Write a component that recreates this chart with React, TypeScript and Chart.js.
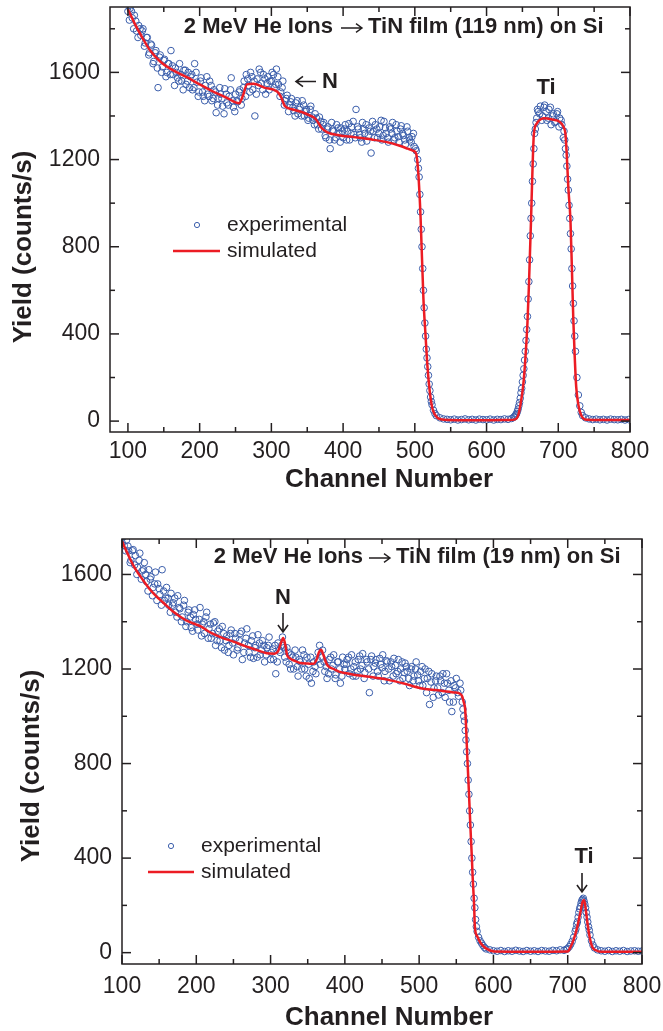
import React, { useEffect, useRef } from 'react';
import { Chart, registerables } from 'chart.js';

Chart.register(...registerables);

const FONT = '"Liberation Sans", Arial, Helvetica, sans-serif';
const INK = '#231f20';
const BLUE = '#3b5eab';
const RED = '#ec1c24';

// ---------- shared tick values ----------
const xTickValues = [100, 200, 300, 400, 500, 600, 700, 800];
const xMinorValues = [150, 250, 350, 450, 550, 650, 750];
const yTickValues = [0, 400, 800, 1200, 1600];
const yMinorValues = [200, 600, 1000, 1400, 1800];

// ---------- top panel: TiN film (119 nm) ----------
const topTitleLeft = '2 MeV He Ions';
const topTitleRight = 'TiN film (119 nm) on Si';
const topExpChannels = [
  100, 103, 106, 109, 112, 115, 118, 121, 124, 127,
  130, 133, 136, 139, 142, 145, 148, 151, 154, 157,
  160, 163, 166, 169, 172, 175, 178, 181, 184, 187,
  190, 193, 196, 199, 202, 205, 208, 211, 214, 217,
  220, 223, 226, 229, 232, 235, 238, 241, 244, 247,
  250, 253, 256, 259, 262, 265, 268, 271, 274, 277,
  280, 283, 286, 289, 292, 295, 298, 301, 304, 307,
  310, 313, 316, 319, 322, 325, 328, 331, 334, 337,
  340, 343, 346, 349, 352, 355, 358, 361, 364, 367,
  370, 373, 376, 379, 382, 385, 388, 391, 394, 397,
  400, 403, 406, 409, 412, 415, 418, 421, 424, 427,
  430, 433, 436, 439, 442, 445, 448, 451, 454, 457,
  460, 463, 466, 469, 472, 475, 478, 481, 484, 487,
  490, 493, 496, 499, 502, 504, 506, 508, 510, 512,
  514, 516, 518, 520, 522, 524, 526, 528, 530, 535,
  540, 545, 550, 555, 560, 565, 570, 575, 580, 585,
  590, 595, 600, 605, 610, 615, 620, 625, 630, 635,
  638, 640, 642, 644, 646, 648, 650, 652, 654, 656,
  658, 660, 662, 664, 666, 668, 670, 672, 675, 678,
  681, 684, 687, 690, 693, 696, 699, 702, 705, 708,
  710, 712, 714, 716, 718, 720, 722, 724, 726, 728,
  730, 732, 734, 738, 743, 748, 753, 758, 763, 768,
  773, 778, 783, 788, 793, 798,
];
const topExpYield = [
  1880, 1893, 1850, 1862, 1790, 1815, 1770, 1800, 1735, 1760,
  1690, 1725, 1650, 1700, 1530, 1680, 1625, 1660, 1600, 1640,
  1700, 1590, 1620, 1575, 1640, 1560, 1610, 1545, 1600, 1580,
  1520, 1640, 1555, 1510, 1575, 1490, 1540, 1500, 1560, 1470,
  1520, 1415, 1480, 1500, 1445, 1525, 1460, 1490, 1575, 1440,
  1500, 1465, 1520, 1480, 1560, 1590, 1540, 1600, 1520, 1400,
  1570, 1615, 1550, 1590, 1500, 1580, 1560, 1600, 1530, 1615,
  1545, 1510, 1560, 1470, 1495, 1450, 1480, 1425, 1460, 1410,
  1440, 1470, 1400, 1430, 1390, 1445, 1380, 1410, 1360, 1395,
  1340, 1370, 1300, 1350, 1250, 1335, 1290, 1360, 1320, 1345,
  1300, 1360, 1330, 1290, 1350, 1315, 1430, 1340, 1300, 1370,
  1320, 1285, 1345, 1230, 1330, 1360, 1300, 1350, 1290, 1375,
  1320, 1280, 1340, 1370, 1300, 1330, 1280, 1355, 1310, 1270,
  1330, 1290, 1305, 1260, 1240, 1200, 1120, 960, 800, 600,
  450, 330, 250, 170, 110, 75, 50, 35, 25, 15,
  10, 8, 6, 9, 5, 7, 10, 6, 8, 5,
  9, 7, 6, 9, 5, 8, 7, 10, 8, 12,
  18, 25, 35, 55, 85, 130, 180, 240, 320, 420,
  560, 740, 930, 1100, 1250, 1340, 1390, 1420, 1445, 1400,
  1450, 1380, 1430, 1360, 1410, 1375, 1420, 1390, 1360, 1330,
  1250, 1170, 1060, 930, 790, 620, 460, 320, 200, 120,
  70, 40, 25, 15, 10, 7, 9, 6, 8, 5,
  9, 7, 6, 8, 5, 7,
];
// second, interleaved sweep of measured channels
const topExpChannels2 = [
  102, 105, 108, 111, 114, 117, 120, 123, 126, 129,
  132, 135, 138, 141, 144, 147, 150, 153, 156, 159,
  162, 165, 168, 171, 174, 177, 180, 183, 186, 189,
  192, 195, 198, 201, 204, 207, 210, 213, 216, 219,
  222, 225, 228, 231, 234, 237, 240, 243, 246, 249,
  252, 255, 258, 261, 264, 267, 270, 273, 276, 279,
  282, 285, 288, 291, 294, 297, 300, 303, 306, 309,
  312, 315, 318, 321, 324, 327, 330, 333, 336, 339,
  342, 345, 348, 351, 354, 357, 360, 363, 366, 369,
  372, 375, 378, 381, 384, 387, 390, 393, 396, 399,
  402, 405, 408, 411, 414, 417, 420, 423, 426, 429,
  432, 435, 438, 441, 444, 447, 450, 453, 456, 459,
  462, 465, 468, 471, 474, 477, 480, 483, 486, 489,
  492, 495, 498, 501, 505, 507, 509, 511, 513, 515,
  517, 519, 521, 523, 639, 641, 643, 645, 647, 649,
  651, 653, 655, 657, 659, 661, 663, 665, 667, 669,
  671, 674, 677, 680, 683, 686, 689, 692, 695, 698,
  701, 704, 707, 709, 711, 713, 715, 717, 719, 721,
  723,
];
const topExpYield2 = [
  1840, 1880, 1800, 1835, 1760, 1800, 1790, 1720, 1760, 1680,
  1730, 1640, 1690, 1620, 1670, 1600, 1655, 1580, 1640, 1590,
  1630, 1540, 1600, 1560, 1590, 1520, 1610, 1560, 1530, 1590,
  1530, 1600, 1490, 1560, 1510, 1470, 1580, 1490, 1540, 1480,
  1510, 1450, 1530, 1480, 1410, 1500, 1450, 1520, 1470, 1420,
  1470, 1510, 1450, 1530, 1490, 1570, 1510, 1580, 1560, 1500,
  1540, 1600, 1520, 1570, 1550, 1520, 1560, 1590, 1545, 1580,
  1490, 1530, 1450, 1480, 1420, 1465, 1440, 1400, 1470, 1430,
  1400, 1450, 1420, 1380, 1430, 1395, 1360, 1390, 1340, 1375,
  1360, 1310, 1340, 1290, 1370, 1330, 1300, 1345, 1280, 1330,
  1340, 1290, 1365, 1320, 1375, 1300, 1350, 1315, 1280, 1340,
  1360, 1310, 1330, 1375, 1300, 1340, 1320, 1380, 1310, 1345,
  1300, 1350, 1320, 1290, 1360, 1305, 1340, 1320, 1290, 1350,
  1300, 1280, 1320, 1250, 1160, 1040, 880, 700, 520, 390,
  290, 210, 140, 90, 20, 30, 45, 70, 105, 150,
  210, 280, 370, 480, 640, 850, 1000, 1180, 1320, 1370,
  1430, 1410, 1380, 1440, 1420, 1390, 1440, 1400, 1370, 1410,
  1350, 1380, 1300, 1290, 1220, 1110, 990, 860, 700, 540,
  390,
];
const topSimChannels = [
  100, 110, 120, 131, 145, 160, 182, 200, 220, 240,
  250, 255, 260, 266, 275, 290, 308, 313, 319, 330,
  345, 354, 362, 370, 378, 394, 415, 440, 461, 480,
  490, 498, 502, 505, 508, 512, 515, 517, 520, 524,
  528, 536, 560, 600, 630, 640, 644, 647, 651, 654,
  657, 659, 662, 664, 666, 670, 673, 680, 690, 703,
  708, 710, 712, 714, 717, 719, 721, 723, 725, 728,
  733, 740, 760, 800,
];
const topSimYield = [
  1890, 1820, 1760, 1700, 1650, 1615, 1578, 1545, 1510, 1480,
  1462, 1458, 1490, 1545, 1548, 1530, 1512, 1490, 1445, 1430,
  1415, 1402, 1385, 1345, 1325, 1312, 1303, 1292, 1280, 1262,
  1250, 1240, 1225, 1130, 936, 560, 390, 280, 160, 65,
  30, 8, 4, 4, 5, 8, 25, 70, 160, 280,
  450, 615, 921, 1150, 1318, 1365, 1379, 1390, 1385, 1371,
  1345, 1318, 1210, 1073, 920, 700, 463, 290, 157, 75,
  20, 6, 5, 5,
];

// ---------- bottom panel: TiN film (19 nm) ----------
const bottomTitleLeft = '2 MeV He Ions';
const bottomTitleRight = 'TiN film (19 nm) on Si';
const bottomExpChannels = [
  100, 103, 106, 109, 112, 115, 118, 121, 124, 127,
  130, 133, 136, 139, 142, 145, 148, 151, 154, 157,
  160, 163, 166, 169, 172, 175, 178, 181, 184, 187,
  190, 193, 196, 199, 202, 205, 208, 211, 214, 217,
  220, 223, 226, 229, 232, 235, 238, 241, 244, 247,
  250, 253, 256, 259, 262, 265, 268, 271, 274, 277,
  280, 283, 286, 289, 292, 295, 298, 301, 304, 307,
  310, 313, 316, 319, 322, 325, 328, 331, 334, 337,
  340, 343, 346, 349, 352, 355, 358, 361, 364, 367,
  370, 373, 376, 379, 382, 385, 388, 391, 394, 397,
  400, 403, 406, 409, 412, 415, 418, 421, 424, 427,
  430, 433, 436, 439, 442, 445, 448, 451, 454, 457,
  460, 463, 466, 469, 472, 475, 478, 481, 484, 487,
  490, 493, 496, 499, 502, 505, 508, 511, 514, 517,
  520, 523, 526, 529, 532, 535, 538, 541, 544, 547,
  550, 553, 556, 558, 560, 562, 564, 566, 568, 570,
  572, 574, 576, 578, 580, 582, 584, 586, 588, 590,
  595, 600, 605, 610, 615, 620, 625, 630, 635, 640,
  645, 650, 655, 660, 665, 670, 675, 680, 685, 690,
  695, 698, 700, 702, 704, 706, 708, 710, 712, 714,
  716, 718, 720, 722, 724, 726, 728, 730, 732, 734,
  736, 740, 745, 750, 755, 760, 765, 770, 775, 780,
  785, 790, 795, 800,
];
const bottomExpYield = [
  1735, 1722, 1745, 1700, 1660, 1705, 1680, 1630, 1690, 1615,
  1650, 1570, 1620, 1590, 1545, 1610, 1560, 1515, 1620, 1490,
  1545, 1470, 1520, 1480, 1440, 1510, 1455, 1420, 1490, 1400,
  1450, 1375, 1430, 1410, 1365, 1460, 1390, 1350, 1440, 1370,
  1330, 1395, 1300, 1360, 1320, 1380, 1280, 1340, 1300, 1365,
  1260, 1330, 1290, 1350, 1240, 1310, 1370, 1270, 1320, 1245,
  1300, 1345, 1260, 1320, 1230, 1290, 1335, 1270, 1240, 1180,
  1310, 1270, 1335, 1250, 1290, 1220, 1260, 1200, 1250, 1170,
  1230, 1280, 1200, 1250, 1160, 1140, 1230, 1180, 1270, 1220,
  1280, 1190, 1160, 1240, 1200, 1260, 1175, 1230, 1140, 1250,
  1200, 1240, 1180, 1260, 1210, 1170, 1240, 1200, 1265, 1185,
  1230, 1100, 1255, 1210, 1240, 1170, 1220, 1260, 1190, 1230,
  1150, 1210, 1245, 1180, 1240, 1200, 1160, 1225, 1190, 1130,
  1210, 1170, 1230, 1150, 1190, 1130, 1200, 1160, 1050, 1180,
  1120, 1170, 1090, 1150, 1180, 1080, 1140, 1060, 1020, 1130,
  1160, 1085, 1110, 1060, 1000, 940, 850, 730, 600, 470,
  340, 230, 140, 90, 65, 50, 40, 30, 22, 16,
  12, 8, 6, 9, 5, 8, 6, 10, 7, 5,
  9, 6, 8, 5, 9, 7, 6, 10, 8, 12,
  10, 14, 18, 25, 35, 48, 65, 90, 120, 150,
  185, 210, 225, 218, 190, 150, 110, 75, 50, 32,
  20, 12, 8, 6, 9, 5, 8, 6, 9, 5,
  7, 8, 6, 7,
];
const bottomExpChannels2 = [
  102, 105, 108, 111, 114, 117, 120, 123, 126, 129,
  132, 135, 138, 141, 144, 147, 150, 153, 156, 159,
  162, 165, 168, 171, 174, 177, 180, 183, 186, 189,
  192, 195, 198, 201, 204, 207, 210, 213, 216, 219,
  222, 225, 228, 231, 234, 237, 240, 243, 246, 249,
  252, 255, 258, 261, 264, 267, 270, 273, 276, 279,
  282, 285, 288, 291, 294, 297, 300, 303, 306, 309,
  312, 315, 318, 321, 324, 327, 330, 333, 336, 339,
  342, 345, 348, 351, 354, 357, 360, 363, 366, 369,
  372, 375, 378, 381, 384, 387, 390, 393, 396, 399,
  402, 405, 408, 411, 414, 417, 420, 423, 426, 429,
  432, 435, 438, 441, 444, 447, 450, 453, 456, 459,
  462, 465, 468, 471, 474, 477, 480, 483, 486, 489,
  492, 495, 498, 501, 504, 507, 510, 513, 516, 519,
  522, 525, 528, 531, 534, 537, 540, 543, 546, 549,
  552, 555, 559, 561, 563, 565, 567, 569, 571, 573,
  575, 577, 711, 713, 715, 717, 719, 721, 723, 725,
  727, 729,
];
const bottomExpYield2 = [
  1760, 1700, 1720, 1650, 1700, 1640, 1600, 1660, 1580, 1620,
  1600, 1530, 1580, 1510, 1560, 1490, 1540, 1470, 1530, 1500,
  1500, 1440, 1470, 1500, 1420, 1460, 1400, 1470, 1380, 1440,
  1420, 1360, 1450, 1390, 1410, 1340, 1400, 1420, 1330, 1390,
  1350, 1400, 1320, 1370, 1290, 1350, 1320, 1270, 1350, 1310,
  1350, 1280, 1320, 1360, 1270, 1330, 1300, 1250, 1340, 1290,
  1250, 1310, 1280, 1300, 1260, 1300, 1240, 1285, 1300, 1230,
  1280, 1300, 1290, 1230, 1270, 1200, 1250, 1280, 1210, 1240,
  1200, 1260, 1170, 1220, 1250, 1190, 1210, 1240, 1300, 1250,
  1230, 1210, 1180, 1250, 1215, 1160, 1230, 1200, 1170, 1220,
  1220, 1250, 1200, 1170, 1230, 1190, 1255, 1215, 1160, 1240,
  1200, 1240, 1170, 1225, 1190, 1245, 1205, 1150, 1235, 1200,
  1230, 1170, 1215, 1190, 1150, 1230, 1185, 1210, 1160, 1200,
  1150, 1200, 1175, 1130, 1210, 1160, 1100, 1190, 1145, 1080,
  1150, 1120, 1170, 1100, 1140, 1180, 1110, 1150, 1060, 1120,
  1100, 1140, 1030, 980, 900, 800, 670, 540, 400, 290,
  190, 110, 100, 130, 170, 195, 220, 230, 205, 170,
  130, 95,
];
const bottomSimChannels = [
  100, 108, 116, 124, 132, 138, 146, 154, 161, 170,
  180, 190, 200, 206, 215, 225, 235, 250, 265, 280,
  295, 305, 310, 314, 317, 320, 322, 326, 332, 340,
  350, 358, 362, 365, 368, 371, 375, 378, 385, 392,
  400, 412, 430, 457, 480, 502, 525, 547, 555, 558,
  560, 562, 565, 567, 569, 571, 572, 574, 575, 578,
  583, 590, 601, 650, 700, 704, 708, 713, 717, 720,
  722, 724, 726, 729, 733, 738, 745, 800,
];
const bottomSimYield = [
  1740, 1685, 1634, 1595, 1560, 1535, 1508, 1485, 1465, 1440,
  1418, 1400, 1388, 1380, 1362, 1345, 1332, 1316, 1298, 1282,
  1267, 1265, 1275, 1310, 1331, 1300, 1262, 1245, 1235, 1225,
  1223, 1222, 1240, 1270, 1281, 1260, 1225, 1211, 1200, 1189,
  1183, 1176, 1168, 1155, 1138, 1119, 1110, 1101, 1095, 1084,
  1060, 1027, 816, 680, 533, 400, 322, 200, 110, 70,
  40, 18, 5, 4, 5, 25, 55, 110, 170, 215,
  223, 190, 138, 75, 25, 10, 4, 4,
];

type Arrow = { x1: number; y1: number; x2: number; y2: number; head?: number };
type Note = { text: string; x: number; y: number };
type Panel = {
  width: number;
  height: number;
  top: number;
  xMin: number;
  xMax: number;
  yMin: number;
  yMax: number;
  padTop: number;
  padRight: number;
  yAxisWidth: number;
  xAxisHeight: number;
  xTickPad: number;
  titleLeft: string;
  titleRight: string;
  titleLeftEnd: number;
  titleRightStart: number;
  titleArrow: Arrow;
  titleY: number;
  yTitleX: number;
  yTitleY: number;
  xTitleX: number;
  xTitleY: number;
  legMarkerX: number;
  legLineX1: number;
  legLineX2: number;
  legTextX: number;
  legY1: number;
  legY2: number;
  notes: Note[];
  arrows: Arrow[];
  expX: number[];
  expY: number[];
  simX: number[];
  simY: number[];
};

const pair = (xs: number[], ys: number[]) => xs.map((x, i) => ({ x, y: ys[i] }));

function drawArrow(ctx: CanvasRenderingContext2D, a: Arrow) {
  const dx = a.x2 - a.x1;
  const dy = a.y2 - a.y1;
  const len = Math.hypot(dx, dy);
  const ux = dx / len;
  const uy = dy / len;
  const h = a.head ?? 7;
  const w = h * 0.72;
  ctx.beginPath();
  ctx.moveTo(a.x1, a.y1);
  ctx.lineTo(a.x2, a.y2);
  ctx.moveTo(a.x2 - ux * h - uy * w, a.y2 - uy * h + ux * w);
  ctx.lineTo(a.x2, a.y2);
  ctx.lineTo(a.x2 - ux * h + uy * w, a.y2 - uy * h - ux * w);
  ctx.stroke();
}

function overlayPlugin(p: Panel) {
  return {
    id: 'overlay',
    afterDraw(chart: any) {
      const ctx: CanvasRenderingContext2D = chart.ctx;
      const a = chart.chartArea;
      const xs = chart.scales.x;
      const ys = chart.scales.y;
      ctx.save();
      ctx.strokeStyle = INK;
      ctx.lineWidth = 1.5;
      ctx.strokeRect(a.left, a.top, a.right - a.left, a.bottom - a.top);
      const seg = (x1: number, y1: number, x2: number, y2: number) => {
        ctx.beginPath();
        ctx.moveTo(x1, y1);
        ctx.lineTo(x2, y2);
        ctx.stroke();
      };
      const xTicks = (vals: number[], len: number) => {
        vals.forEach((v) => {
          if (v < p.xMin || v > p.xMax) return;
          const px = xs.getPixelForValue(v);
          seg(px, a.bottom, px, a.bottom - len);
          seg(px, a.top, px, a.top + len);
        });
      };
      const yTicks = (vals: number[], len: number) => {
        vals.forEach((v) => {
          if (v < p.yMin || v > p.yMax) return;
          const py = ys.getPixelForValue(v);
          seg(a.left, py, a.left + len, py);
          seg(a.right, py, a.right - len, py);
        });
      };
      xTicks(xTickValues, 9);
      xTicks(xMinorValues, 5);
      yTicks(yTickValues, 9);
      yTicks(yMinorValues, 5);

      ctx.fillStyle = INK;
      ctx.textBaseline = 'middle';
      // panel title
      ctx.font = `bold 22px ${FONT}`;
      ctx.textAlign = 'right';
      ctx.fillText(p.titleLeft, p.titleLeftEnd, p.titleY);
      ctx.textAlign = 'left';
      ctx.fillText(p.titleRight, p.titleRightStart, p.titleY);
      ctx.lineWidth = 1.4;
      drawArrow(ctx, p.titleArrow);
      // annotations
      ctx.textAlign = 'center';
      p.notes.forEach((n) => {
        ctx.font = `bold 22px ${FONT}`;
        ctx.fillText(n.text, n.x, n.y);
      });
      ctx.lineWidth = 1.6;
      p.arrows.forEach((ar) => drawArrow(ctx, ar));
      // axis titles
      ctx.font = `bold 26px ${FONT}`;
      ctx.fillText('Channel Number', p.xTitleX, p.xTitleY);
      ctx.save();
      ctx.translate(p.yTitleX, p.yTitleY);
      ctx.rotate(-Math.PI / 2);
      ctx.fillText('Yield (counts/s)', 0, 0);
      ctx.restore();
      // legend
      ctx.strokeStyle = BLUE;
      ctx.lineWidth = 1;
      ctx.beginPath();
      ctx.arc(p.legMarkerX, p.legY1, 2.6, 0, Math.PI * 2);
      ctx.stroke();
      ctx.strokeStyle = RED;
      ctx.lineWidth = 2.5;
      seg(p.legLineX1, p.legY2, p.legLineX2, p.legY2);
      ctx.fillStyle = INK;
      ctx.textAlign = 'left';
      ctx.font = `21px ${FONT}`;
      ctx.fillText('experimental', p.legTextX, p.legY1);
      ctx.fillText('simulated', p.legTextX, p.legY2);
      ctx.restore();
    },
  };
}

function makeConfig(p: Panel): any {
  const tickFont = { family: FONT, size: 23 };
  return {
    type: 'scatter',
    data: {
      datasets: [
        {
          label: 'simulated',
          data: pair(p.simX, p.simY),
          showLine: true,
          borderColor: RED,
          borderWidth: 2.5,
          pointRadius: 0,
          cubicInterpolationMode: 'monotone',
          fill: false,
        },
        {
          label: 'experimental',
          data: pair(p.expX, p.expY),
          showLine: false,
          pointRadius: 3.3,
          pointBorderWidth: 1,
          pointBorderColor: BLUE,
          pointBackgroundColor: 'rgba(0,0,0,0)',
          borderColor: BLUE,
          backgroundColor: 'rgba(0,0,0,0)',
        },
      ],
    },
    options: {
      responsive: false,
      animation: false,
      events: [],
      layout: { padding: { left: 0, top: p.padTop, right: p.padRight, bottom: 0 } },
      plugins: { legend: { display: false }, tooltip: { enabled: false }, title: { display: false } },
      scales: {
        x: {
          type: 'linear',
          min: p.xMin,
          max: p.xMax,
          afterBuildTicks: (s: any) => {
            s.ticks = xTickValues.map((v) => ({ value: v }));
          },
          afterFit: (s: any) => {
            s.height = p.xAxisHeight;
            s.paddingLeft = 0;
            s.paddingRight = 0;
          },
          grid: { display: false, drawTicks: false },
          border: { display: false },
          ticks: {
            font: tickFont,
            color: INK,
            padding: p.xTickPad,
            maxRotation: 0,
            autoSkip: false,
            callback: (v: any) => String(v),
          },
        },
        y: {
          type: 'linear',
          min: p.yMin,
          max: p.yMax,
          afterBuildTicks: (s: any) => {
            s.ticks = yTickValues.map((v) => ({ value: v }));
          },
          afterFit: (s: any) => {
            s.width = p.yAxisWidth;
            s.paddingTop = 0;
            s.paddingBottom = 0;
          },
          grid: { display: false, drawTicks: false },
          border: { display: false },
          ticks: {
            font: tickFont,
            color: INK,
            padding: 10,
            autoSkip: false,
            callback: (v: any) => String(v),
          },
        },
      },
    },
    plugins: [overlayPlugin(p)],
  };
}

const topPanel: Panel = {
  width: 663,
  height: 500,
  top: 0,
  xMin: 75,
  xMax: 800,
  yMin: -50,
  yMax: 1900,
  padTop: 7,
  padRight: 33,
  yAxisWidth: 110,
  xAxisHeight: 68,
  xTickPad: 6,
  titleLeft: topTitleLeft,
  titleRight: topTitleRight,
  titleLeftEnd: 333,
  titleRightStart: 368,
  titleArrow: { x1: 341, y1: 28, x2: 362, y2: 28, head: 6 },
  titleY: 27,
  yTitleX: 24,
  yTitleY: 247,
  xTitleX: 389,
  xTitleY: 480,
  legMarkerX: 197,
  legLineX1: 173,
  legLineX2: 220,
  legTextX: 227,
  legY1: 225,
  legY2: 251,
  notes: [{ text: 'N', x: 330, y: 82 }, { text: 'Ti', x: 546, y: 88 }],
  arrows: [{ x1: 316, y1: 81.5, x2: 296, y2: 81.5 }],
  expX: topExpChannels.concat(topExpChannels2),
  expY: topExpYield.concat(topExpYield2),
  simX: topSimChannels,
  simY: topSimYield,
};

const bottomPanel: Panel = {
  width: 663,
  height: 531,
  top: 500,
  xMin: 100,
  xMax: 800,
  yMin: -48,
  yMax: 1750,
  padTop: 39,
  padRight: 21,
  yAxisWidth: 122,
  xAxisHeight: 67,
  xTickPad: 9,
  titleLeft: bottomTitleLeft,
  titleRight: bottomTitleRight,
  titleLeftEnd: 363,
  titleRightStart: 396,
  titleArrow: { x1: 369, y1: 58, x2: 390, y2: 58, head: 6 },
  titleY: 57,
  yTitleX: 32,
  yTitleY: 266,
  xTitleX: 389,
  xTitleY: 518,
  legMarkerX: 171,
  legLineX1: 148,
  legLineX2: 194,
  legTextX: 201,
  legY1: 346,
  legY2: 372,
  notes: [{ text: 'N', x: 283, y: 98 }, { text: 'Ti', x: 584, y: 357 }],
  arrows: [
    { x1: 283, y1: 113, x2: 283, y2: 132 },
    { x1: 582, y1: 373, x2: 582, y2: 392 },
  ],
  expX: bottomExpChannels.concat(bottomExpChannels2),
  expY: bottomExpYield.concat(bottomExpYield2),
  simX: bottomSimChannels,
  simY: bottomSimYield,
};

function PanelChart({ panel }: { panel: Panel }) {
  const ref = useRef<HTMLCanvasElement | null>(null);
  useEffect(() => {
    if (!ref.current) return;
    const chart = new Chart(ref.current, makeConfig(panel));
    return () => chart.destroy();
  }, [panel]);
  return (
    <canvas
      ref={ref}
      width={panel.width}
      height={panel.height}
      style={{ position: 'absolute', left: 0, top: panel.top, width: panel.width, height: panel.height }}
    />
  );
}

export default function App() {
  return (
    <div style={{ position: 'absolute', left: 0, top: 0, width: 663, height: 1031, background: '#fff' }}>
      <PanelChart panel={topPanel} />
      <PanelChart panel={bottomPanel} />
    </div>
  );
}
